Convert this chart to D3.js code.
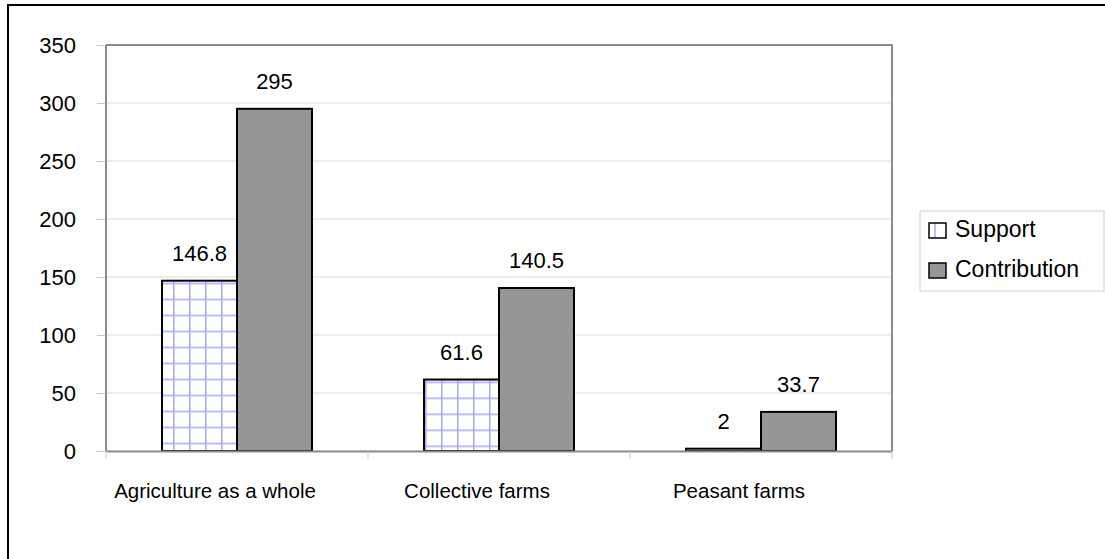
<!DOCTYPE html>
<html>
<head>
<meta charset="utf-8">
<script src="https://cdn.jsdelivr.net/npm/d3@7"></script>
<style>
  body { margin: 0; background: #fff; }
  svg text { font-family: "Liberation Sans", Arial, sans-serif; fill: #000; }
</style>
</head>
<body>
<svg id="chart" width="1105" height="559"></svg>
<script>
// chart values
var categories = ['Agriculture as a whole', 'Collective farms', 'Peasant farms']
var seriesNames = ['Support', 'Contribution']
var support = [146.8, 61.6, 2]
var contribution = [295, 140.5, 33.7]
var yTicks = [0, 50, 100, 150, 200, 250, 300, 350]

;(function () {
  var svg = d3.select('#chart')
  var plot = {left: 106, top: 45, right: 892, bottom: 451}

  var x = d3.scaleBand()
    .domain(categories)
    .range([plot.left, plot.right])
    .paddingInner(0)
    .paddingOuter(0)

  var inner = d3.scaleBand()
    .domain(seriesNames)
    .range([0, x.bandwidth()])
    .paddingInner(0)
    .paddingOuter(0.747)

  var y = d3.scaleLinear()
    .domain([0, 350])
    .range([plot.bottom, plot.top])

  var defs = svg.append('defs')

  // outer frame
  svg.append('rect')
    .attr('x', 8).attr('y', 5)
    .attr('width', 1110).attr('height', 570)
    .attr('fill', 'none')
    .attr('stroke', '#000')
    .attr('stroke-width', 2)

  /*
      --------------------------------------
      Grid and y axis
  */
  svg.append('g')
    .selectAll('line')
    .data(yTicks)
    .join('line')
    .attr('x1', plot.left).attr('x2', plot.right)
    .attr('y1', d => y(d)).attr('y2', d => y(d))
    .attr('stroke', '#d9d9d9')
    .attr('stroke-width', 1)

  var yAxis = svg.append('g')
    .attr('transform', `translate(${plot.left},0)`)
    .call(d3.axisLeft(y).tickValues(yTicks).tickSize(9).tickPadding(21))

  yAxis.select('.domain').remove()
  yAxis.selectAll('.tick line').attr('stroke', '#c8c8c8')
  yAxis.selectAll('.tick text')
    .style('font-size', '22px')
    .attr('fill', '#000')

  /*
      --------------------------------------
      Bars
  */
  var groups = svg.append('g')
    .selectAll('g')
    .data(categories)
    .join('g')
    .attr('transform', d => `translate(${x(d)},0)`)

  groups.each(function (cat, i) {
    var g = d3.select(this)
    var bx = x(cat) + inner('Support')
    var by = y(support[i])

    var pat = defs.append('pattern')
      .attr('id', 'grid' + i)
      .attr('patternUnits', 'userSpaceOnUse')
      .attr('x', bx + 1).attr('y', by + 2)
      .attr('width', 16).attr('height', 16)
    pat.append('rect').attr('width', 16).attr('height', 16).attr('fill', '#fff')
    pat.append('line').attr('x1', 0.75).attr('x2', 0.75).attr('y1', 0).attr('y2', 16)
      .attr('stroke', '#a6a6ff').attr('stroke-width', 1.5)
    pat.append('line').attr('y1', 0.75).attr('y2', 0.75).attr('x1', 0).attr('x2', 16)
      .attr('stroke', '#a6a6ff').attr('stroke-width', 1.5)

    g.append('rect')
      .attr('x', inner('Support'))
      .attr('y', by)
      .attr('width', inner.bandwidth())
      .attr('height', y(0) - by)
      .attr('fill', `url(#grid${i})`)
      .attr('stroke', '#000')
      .attr('stroke-width', 2)

    g.append('rect')
      .attr('x', inner('Contribution'))
      .attr('y', y(contribution[i]))
      .attr('width', inner.bandwidth())
      .attr('height', y(0) - y(contribution[i]))
      .attr('fill', '#969696')
      .attr('stroke', '#000')
      .attr('stroke-width', 2)

    // value labels
    g.append('text')
      .attr('x', inner('Support') + inner.bandwidth() / 2)
      .attr('y', by - 20)
      .attr('text-anchor', 'middle')
      .style('font-size', '22px')
      .text(support[i])

    g.append('text')
      .attr('x', inner('Contribution') + inner.bandwidth() / 2)
      .attr('y', y(contribution[i]) - 20)
      .attr('text-anchor', 'middle')
      .style('font-size', '22px')
      .text(contribution[i])
  })

  /*
      --------------------------------------
      Plot border and x axis
  */
  svg.append('path')
    .attr('d', `M${plot.left},${plot.top}H${plot.right}V${plot.bottom}`)
    .attr('fill', 'none')
    .attr('stroke', '#8c8c8c')
    .attr('stroke-width', 2)

  svg.append('line')
    .attr('x1', plot.left).attr('x2', plot.left)
    .attr('y1', plot.top).attr('y2', plot.bottom)
    .attr('stroke', '#8c8c8c')
    .attr('stroke-width', 2)

  var xAxis = svg.append('g')
    .attr('transform', `translate(0,${plot.bottom})`)
    .call(d3.axisBottom(x).tickSize(0).tickPadding(32))

  xAxis.select('.domain')
    .attr('stroke', '#8c8c8c')
    .attr('stroke-width', 2)
  // labels sit a little left of the band centre, as in the source
  xAxis.selectAll('.tick text')
    .attr('dx', -22)
    .style('font-size', '20.5px')
    .attr('fill', '#000')

  // category boundary ticks
  xAxis.selectAll('.sep')
    .data(categories.concat([null]))
    .join('line')
    .attr('class', 'sep')
    .attr('x1', d => d ? x(d) : plot.right)
    .attr('x2', d => d ? x(d) : plot.right)
    .attr('y1', 0).attr('y2', 8)
    .attr('stroke', '#c8c8c8')

  /*
      --------------------------------------
      Legend
  */
  var legend = svg.append('g').attr('transform', 'translate(920,211)')
  legend.append('rect')
    .attr('width', 184).attr('height', 80)
    .attr('fill', '#fff')
    .attr('stroke', '#cfcfcf')

  var lp = defs.append('pattern')
    .attr('id', 'gridLegend')
    .attr('patternUnits', 'userSpaceOnUse')
    .attr('x', 929).attr('y', 222)
    .attr('width', 16).attr('height', 16)
  lp.append('rect').attr('width', 16).attr('height', 16).attr('fill', '#fff')
  lp.append('line').attr('x1', 14).attr('x2', 14).attr('y1', 0).attr('y2', 16)
    .attr('stroke', '#a6a6ff').attr('stroke-width', 1.5)

  var items = legend.selectAll('.item')
    .data(seriesNames)
    .join('g')
    .attr('class', 'item')
    .attr('transform', (d, i) => `translate(0,${12 + i * 40})`)

  items.append('rect')
    .attr('x', 9).attr('y', 0)
    .attr('width', 17).attr('height', 15)
    .attr('fill', (d, i) => i === 0 ? 'url(#gridLegend)' : '#969696')
    .attr('stroke', '#000')
    .attr('stroke-width', 1.5)

  items.append('text')
    .attr('x', 35).attr('y', 14)
    .style('font-size', '23px')
    .text(d => d)
})()
</script>
</body>
</html>
